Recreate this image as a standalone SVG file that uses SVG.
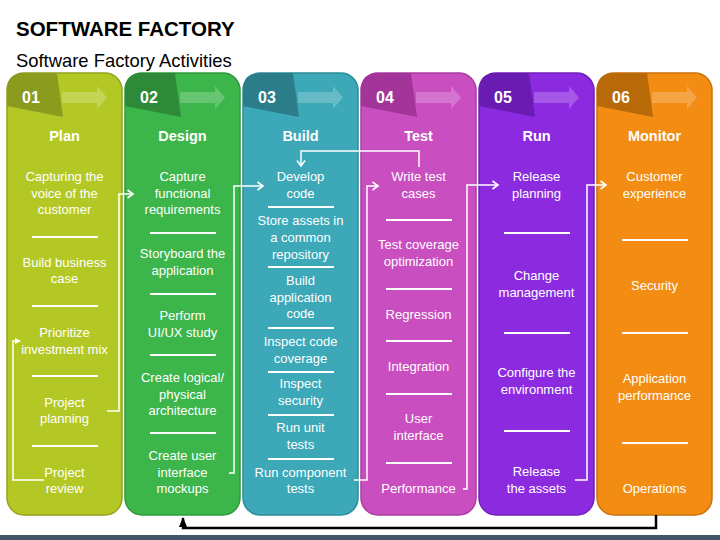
<svg xmlns="http://www.w3.org/2000/svg" width="720" height="540" viewBox="0 0 720 540">
<defs>
<style>
.t{font-family:"Liberation Sans",Arial,sans-serif;fill:#fff;font-size:13px;text-anchor:middle}
.h{font-weight:bold;font-size:14.5px}
.n{font-family:"Liberation Sans",Arial,sans-serif;fill:#fff;font-weight:bold;font-size:16px}
.sep{stroke:#fff;stroke-width:2}
.ar{fill:#fff;fill-opacity:0.22}
.conn{stroke:#fff;stroke-width:1.5;fill:none}
</style>
<marker id="chev" viewBox="0 0 10 10" refX="8.5" refY="5" markerWidth="10" markerHeight="10" markerUnits="userSpaceOnUse" orient="auto">
<path d="M3,1 L8.5,5 L3,9" fill="none" stroke="#fff" stroke-width="1.6"/>
</marker>
<marker id="small" viewBox="0 0 6 6" refX="5" refY="3" markerWidth="6" markerHeight="6" markerUnits="userSpaceOnUse" orient="auto">
<path d="M0,0 L6,3 L0,6 Z" fill="#fff"/>
</marker>
<marker id="blk" viewBox="0 0 10 10" refX="9" refY="5" markerWidth="10" markerHeight="10" markerUnits="userSpaceOnUse" orient="auto">
<path d="M0,1 L10,5 L0,9 Z" fill="#000"/>
</marker>
<path id="tab" d="M7,90 Q7,73 24,73 H57 L63,117 L7,106 Z"/>
<path id="arrow" d="M62,92 H97 V86 L107,97.5 L97,109 V103 H62 Z"/>
</defs>
<rect width="720" height="540" fill="#fff"/>
<text x="16" y="36" style="font-family:'Liberation Sans',Arial,sans-serif;font-weight:bold;font-size:20.5px;fill:#000">SOFTWARE FACTORY</text>
<text x="16" y="67" style="font-family:'Liberation Sans',Arial,sans-serif;font-size:18.4px;fill:#000">Software Factory Activities</text>

<g id="col-plan">
<rect x="7" y="73" width="115" height="442" rx="17" fill="#b4c825" stroke="#93a31e" stroke-width="1.5"/>
<use href="#tab" fill="#8b9b1d"/>
<use href="#arrow" class="ar"/>
<text class="n" x="22" y="103">01</text>
<text class="t h" x="64.5" y="141">Plan</text>
<text class="t" x="64.5" y="181">Capturing the</text>
<text class="t" x="64.5" y="198">voice of the</text>
<text class="t" x="64.5" y="214">customer</text>
<line class="sep" x1="32" y1="237" x2="98" y2="237"/>
<text class="t" x="64.5" y="267">Build business</text>
<text class="t" x="64.5" y="283">case</text>
<line class="sep" x1="32" y1="306" x2="98" y2="306"/>
<text class="t" x="64.5" y="337">Prioritize</text>
<text class="t" x="64.5" y="354">investment mix</text>
<line class="sep" x1="32" y1="376" x2="98" y2="376"/>
<text class="t" x="64.5" y="407">Project</text>
<text class="t" x="64.5" y="423">planning</text>
<line class="sep" x1="32" y1="446" x2="98" y2="446"/>
<text class="t" x="64.5" y="477">Project</text>
<text class="t" x="64.5" y="493">review</text>
</g>

<g id="col-design" transform="translate(118,0)">
<rect x="7" y="73" width="115" height="442" rx="17" fill="#3cb54a" stroke="#2f9a3b" stroke-width="1.5"/>
<use href="#tab" fill="#2e8a38"/>
<use href="#arrow" class="ar"/>
<text class="n" x="22" y="103">02</text>
<text class="t h" x="64.5" y="141">Design</text>
<text class="t" x="64.5" y="181">Capture</text>
<text class="t" x="64.5" y="198">functional</text>
<text class="t" x="64.5" y="214">requirements</text>
<line class="sep" x1="32" y1="233" x2="98" y2="233"/>
<text class="t" x="64.5" y="258">Storyboard the</text>
<text class="t" x="64.5" y="275">application</text>
<line class="sep" x1="32" y1="294" x2="98" y2="294"/>
<text class="t" x="64.5" y="320">Perform</text>
<text class="t" x="64.5" y="337">UI/UX study</text>
<line class="sep" x1="32" y1="355" x2="98" y2="355"/>
<text class="t" x="64.5" y="382">Create logical/</text>
<text class="t" x="64.5" y="399">physical</text>
<text class="t" x="64.5" y="415">architecture</text>
<line class="sep" x1="32" y1="433" x2="98" y2="433"/>
<text class="t" x="64.5" y="460">Create user</text>
<text class="t" x="64.5" y="477">interface</text>
<text class="t" x="64.5" y="493">mockups</text>
</g>

<g id="col-build" transform="translate(236,0)">
<rect x="7" y="73" width="115" height="442" rx="17" fill="#3ca8b8" stroke="#2f8c99" stroke-width="1.5"/>
<use href="#tab" fill="#2b7e89"/>
<use href="#arrow" class="ar"/>
<text class="n" x="22" y="103">03</text>
<text class="t h" x="64.5" y="141">Build</text>
<text class="t" x="64.5" y="181">Develop</text>
<text class="t" x="64.5" y="198">code</text>
<line class="sep" x1="32" y1="207" x2="98" y2="207"/>
<text class="t" x="64.5" y="225">Store assets in</text>
<text class="t" x="64.5" y="242">a common</text>
<text class="t" x="64.5" y="259">repository</text>
<line class="sep" x1="32" y1="267" x2="98" y2="267"/>
<text class="t" x="64.5" y="285">Build</text>
<text class="t" x="64.5" y="302">application</text>
<text class="t" x="64.5" y="318">code</text>
<line class="sep" x1="32" y1="328" x2="98" y2="328"/>
<text class="t" x="64.5" y="346">Inspect code</text>
<text class="t" x="64.5" y="363">coverage</text>
<line class="sep" x1="32" y1="372" x2="98" y2="372"/>
<text class="t" x="64.5" y="388">Inspect</text>
<text class="t" x="64.5" y="405">security</text>
<line class="sep" x1="32" y1="415" x2="98" y2="415"/>
<text class="t" x="64.5" y="432">Run unit</text>
<text class="t" x="64.5" y="449">tests</text>
<line class="sep" x1="32" y1="459" x2="98" y2="459"/>
<text class="t" x="64.5" y="477">Run component</text>
<text class="t" x="64.5" y="493">tests</text>
</g>

<g id="col-test" transform="translate(354,0)">
<rect x="7" y="73" width="115" height="442" rx="17" fill="#c94ec0" stroke="#a83ea0" stroke-width="1.5"/>
<use href="#tab" fill="#a2349a"/>
<use href="#arrow" class="ar"/>
<text class="n" x="22" y="103">04</text>
<text class="t h" x="64.5" y="141">Test</text>
<text class="t" x="64.5" y="181">Write test</text>
<text class="t" x="64.5" y="198">cases</text>
<line class="sep" x1="32" y1="220" x2="98" y2="220"/>
<text class="t" x="64.5" y="249">Test coverage</text>
<text class="t" x="64.5" y="266">optimization</text>
<line class="sep" x1="32" y1="289" x2="98" y2="289"/>
<text class="t" x="64.5" y="319">Regression</text>
<line class="sep" x1="32" y1="341" x2="98" y2="341"/>
<text class="t" x="64.5" y="371">Integration</text>
<line class="sep" x1="32" y1="394" x2="98" y2="394"/>
<text class="t" x="64.5" y="423">User</text>
<text class="t" x="64.5" y="440">interface</text>
<line class="sep" x1="32" y1="463" x2="98" y2="463"/>
<text class="t" x="64.5" y="493">Performance</text>
</g>

<g id="col-run" transform="translate(472,0)">
<rect x="7" y="73" width="115" height="442" rx="17" fill="#8c2ae0" stroke="#7020bb" stroke-width="1.5"/>
<use href="#tab" fill="#6a1cb2"/>
<use href="#arrow" class="ar"/>
<text class="n" x="22" y="103">05</text>
<text class="t h" x="64.5" y="141">Run</text>
<text class="t" x="64.5" y="181">Release</text>
<text class="t" x="64.5" y="198">planning</text>
<line class="sep" x1="32" y1="233" x2="98" y2="233"/>
<text class="t" x="64.5" y="280">Change</text>
<text class="t" x="64.5" y="297">management</text>
<line class="sep" x1="32" y1="333" x2="98" y2="333"/>
<text class="t" x="64.5" y="377">Configure the</text>
<text class="t" x="64.5" y="394">environment</text>
<line class="sep" x1="32" y1="431" x2="98" y2="431"/>
<text class="t" x="64.5" y="476">Release</text>
<text class="t" x="64.5" y="493">the assets</text>
</g>

<g id="col-monitor" transform="translate(590,0)">
<rect x="7" y="73" width="115" height="442" rx="17" fill="#f28c12" stroke="#c8720c" stroke-width="1.5"/>
<use href="#tab" fill="#b76a07"/>
<use href="#arrow" class="ar"/>
<text class="n" x="22" y="103">06</text>
<text class="t h" x="64.5" y="141">Monitor</text>
<text class="t" x="64.5" y="181">Customer</text>
<text class="t" x="64.5" y="198">experience</text>
<line class="sep" x1="32" y1="240" x2="98" y2="240"/>
<text class="t" x="64.5" y="290">Security</text>
<line class="sep" x1="32" y1="333" x2="98" y2="333"/>
<text class="t" x="64.5" y="383">Application</text>
<text class="t" x="64.5" y="400">performance</text>
<line class="sep" x1="32" y1="443" x2="98" y2="443"/>
<text class="t" x="64.5" y="493">Operations</text>
</g>

<g id="connectors">
<path class="conn" d="M44,480 H13 V341 H20" marker-end="url(#small)"/>
<path class="conn" d="M107,411 H119 V194 H133" marker-end="url(#chev)"/>
<path class="conn" d="M229,473 H234 V186 H263" marker-end="url(#chev)"/>
<path class="conn" d="M354,480 H367 V186 H378" marker-end="url(#chev)"/>
<path class="conn" d="M419,167 V151 H301 V166" marker-end="url(#chev)"/>
<path class="conn" d="M463,489 H467 V185 H498" marker-end="url(#chev)"/>
<path class="conn" d="M575,480 H587 V185 H606" marker-end="url(#chev)"/>
<path d="M656,515 V528 H183 V518" fill="none" stroke="#000" stroke-width="2.5" marker-end="url(#blk)"/>
</g>
<rect x="0" y="535" width="720" height="5" fill="#44546a"/>
</svg>
